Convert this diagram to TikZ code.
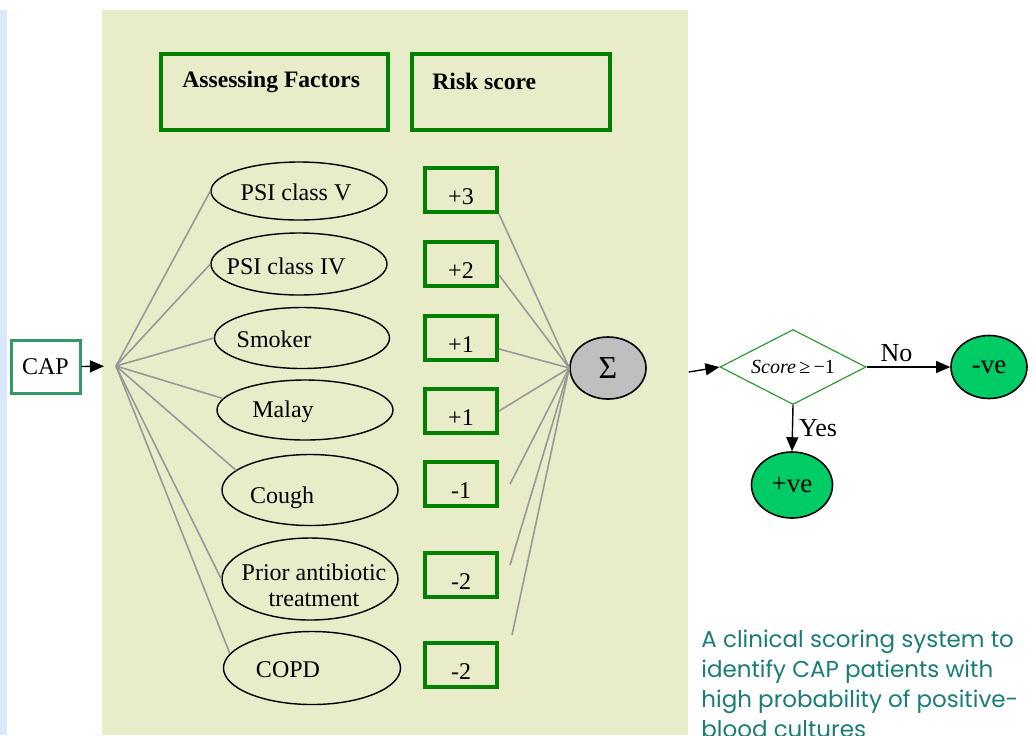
\documentclass[tikz,border=0pt]{standalone}
\usepackage{fontspec}
\setmainfont{Liberation Serif}
\newfontfamily\capfont{Poppins}
\usetikzlibrary{shapes.geometric,arrows.meta}

\definecolor{panelbg}{RGB}{233,236,201}
\definecolor{stripbg}{RGB}{218,232,252}
\definecolor{boxgreen}{RGB}{0,128,0}
\definecolor{capgreen}{RGB}{51,153,102}
\definecolor{testgreen}{RGB}{51,153,51}
\definecolor{resgreen}{RGB}{0,204,102}
\definecolor{fangrey}{RGB}{153,153,153}
\definecolor{capteal}{RGB}{25,124,120}

\tikzset{
  factor/.style={ellipse,draw=black,line width=0.7pt,inner sep=0pt},
  ftxt/.style={font=\fontsize{12}{13}\selectfont,inner sep=0pt},
  headbox/.style={draw=boxgreen,line width=2pt,minimum width=113.5pt,minimum height=38pt},
  headtxt/.style={font=\fontsize{11.8}{13}\selectfont\bfseries,anchor=west,inner sep=0pt},
  scorebox/.style={draw=boxgreen,line width=2pt,minimum width=36pt,minimum height=22pt,
    inner sep=0pt,text height=14pt,text depth=0pt,font=\fontsize{12}{13}\selectfont},
  fan/.style={draw=fangrey,line width=0.8pt},
  arr/.style={draw=black,line width=0.7pt,-{Triangle[length=7pt,width=6pt]}},
  result/.style={ellipse,draw=black,line width=0.8pt,fill=resgreen,inner sep=0pt,
    font=\fontsize{13.5}{14}\selectfont},
  edgetxt/.style={font=\fontsize{13}{14}\selectfont,inner sep=1pt},
}

\begin{document}
\begin{tikzpicture}[x=0.5pt,y=-0.5pt]
\useasboundingbox (0,0) rectangle (1036,735);
\clip (0,0) rectangle (1036,735);

% backgrounds
\fill[stripbg] (0,10) rectangle (7,735);
\fill[panelbg] (102,10) rectangle (688,735);

% column headers
\node[headbox] (hdfac) at (274.5,92) {};
\node[headbox,minimum width=99pt] (hdscore) at (511,92) {};
\node[headtxt] (hdfac-t) at (182,82) {Assessing Factors};
\node[headtxt] (hdscore-t) at (432,81) {Risk score};

% input
\node[draw=capgreen,line width=1.5pt,fill=white,minimum width=34.5pt,minimum height=26.5pt,
  inner sep=0pt,font=\fontsize{12}{13}\selectfont] (cap) at (45.5,366.5) {CAP};
\coordinate (fanpt) at (116,366);
\draw[arr,shorten >=6pt] (cap.east) -- (fanpt);

% factors
\node[factor,minimum width=88pt,minimum height=29pt] (psiv) at (299,191) {};
\node[factor,minimum width=88pt,minimum height=31pt] (psiiv) at (299,264) {};
\node[factor,minimum width=87.5pt,minimum height=30.5pt] (smoker) at (302,338) {};
\node[factor,minimum width=88pt,minimum height=30pt] (malay) at (305,410) {};
\node[factor,minimum width=88pt,minimum height=35.5pt] (cough) at (310,490) {};
\node[factor,minimum width=88pt,minimum height=41pt] (prior) at (310,579) {};
\node[factor,minimum width=88.5pt,minimum height=36.5pt] (copd) at (312,668) {};

\node[ftxt] (psiv-t) at (296,192) {PSI class V};
\node[ftxt] (psiiv-t) at (286,266) {PSI class IV};
\node[ftxt] (smoker-t) at (274,339) {Smoker};
\node[ftxt] (malay-t) at (283,412) {Malay};
\node[ftxt] (cough-t) at (282,498) {Cough};
\node[ftxt,align=center] (prior-t) at (314,585) {Prior antibiotic\\treatment};
\node[ftxt] (copd-t) at (288,670) {COPD};

\foreach \f/\a in {psiv/west,psiiv/west,smoker/west,malay/172,cough/165,prior/west,copd/170}
  \draw[fan] (fanpt) -- (\f.\a);

% scores
\node[scorebox] (sc1) at (461,190) {+3};
\node[scorebox] (sc2) at (461,264) {+2};
\node[scorebox] (sc3) at (461,338) {+1};
\node[scorebox] (sc4) at (461,411) {+1};
\node[scorebox] (sc5) at (461,484) {-1};
\node[scorebox] (sc6) at (461,575) {-2};
\node[scorebox] (sc7) at (461,665) {-2};

% summation
\node[ellipse,draw=black,line width=0.8pt,fill=black!25,minimum width=38pt,minimum height=31pt,
  inner sep=0pt,font=\fontsize{16}{16}\selectfont] (sigma) at (608,368) {Σ};

\draw[fan] (sc1.south east) -- (sigma.west);
\draw[fan] ([yshift=-5.5pt]sc2.east) -- (sigma.west);
\draw[fan] ([yshift=-5.5pt]sc3.east) -- (sigma.west);
\draw[fan] (sc4.east) -- (sigma.west);
\draw[fan] ([xshift=5.5pt]sc5.east) -- (sigma.west);
\draw[fan] ([xshift=5.5pt,yshift=5pt]sc6.east) -- (sigma.west);
\draw[fan] ([xshift=6.5pt,yshift=15pt]sc7.east) -- (sigma.west);

% decision
\node[diamond,draw=testgreen,line width=0.6pt,fill=white,aspect=2,inner sep=0pt,
  minimum width=73pt,minimum height=37.5pt,font=\fontsize{10}{11}\selectfont] (test) at (793,367)
  {\textit{Score}\,≥\,−1};
\node[result,minimum width=38pt,minimum height=31.5pt] (neg) at (989,367) {-ve};
\node[result,minimum width=40.5pt,minimum height=33pt] (pos) at (792,485) {+ve};

\draw[arr] ([xshift=21pt,yshift=-2pt]sigma.east) -- (test.west);
\draw[arr] (test.east) -- node[above,edgetxt,inner sep=2.5pt,xshift=-6pt] {No} (neg.west);
\draw[arr] (test.south) -- node[right,edgetxt,xshift=2pt] {Yes} (pos.north);

% caption
\node[anchor=north west,align=left,inner sep=0pt,text=capteal,
  font=\capfont\fontsize{11.5}{15}\selectfont] (caption) at (701,630)
  {A clinical scoring system to\\identify CAP patients with\\high probability of positive-\\blood cultures};
\end{tikzpicture}
\end{document}
